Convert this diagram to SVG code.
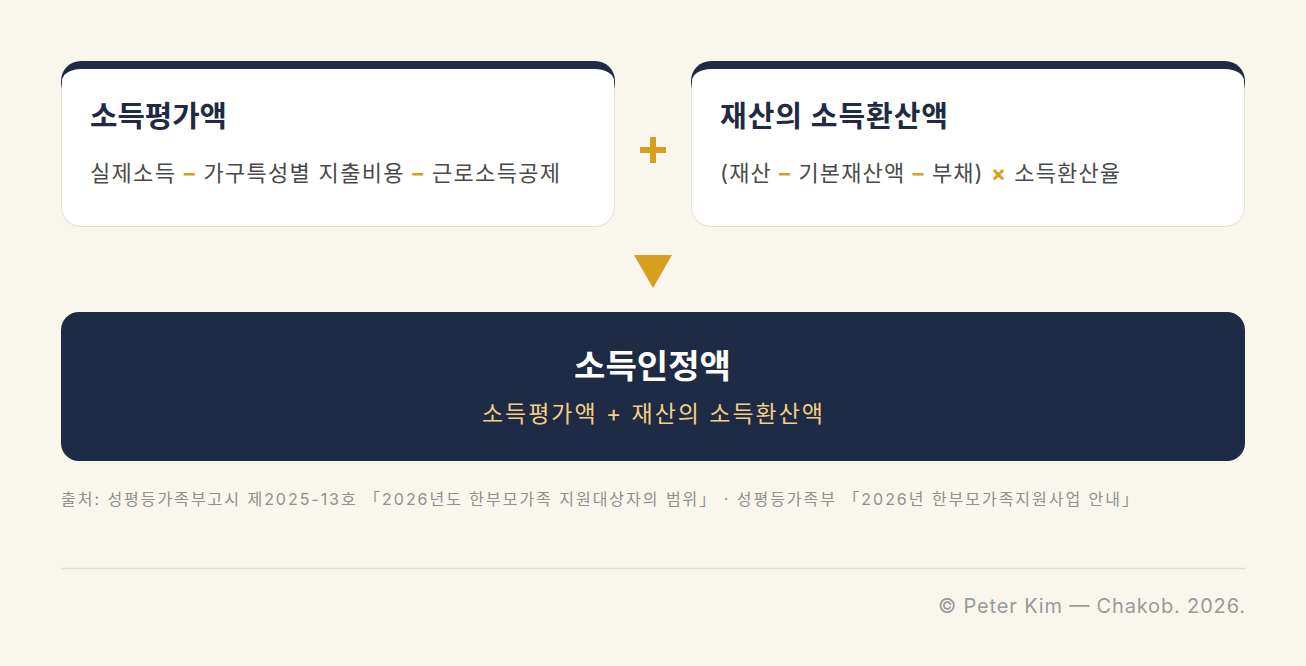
<svg xmlns="http://www.w3.org/2000/svg" width="1306" height="666" viewBox="0 0 1306 666">
<style>
.t{font-family:Inter,"Noto Sans CJK KR",sans-serif}
.ttl{font-size:29px;font-weight:700;fill:#1f2a44}
.frm{font-size:22px;fill:#4a4a4a}
.op{fill:#d89e1e;font-weight:700}
.src{font-size:16px;fill:#8f8f8f}
.cp{font-size:20px;fill:#9a9a9a}
</style>
<defs>
<linearGradient id="bd" x1="0" y1="61" x2="0" y2="227" gradientUnits="userSpaceOnUse">
<stop offset="0" stop-color="#1f2a44"/><stop offset="0.13" stop-color="#1f2a44"/><stop offset="0.17" stop-color="#e6e0d2"/><stop offset="1" stop-color="#e6e0d2"/>
</linearGradient>
</defs>
<rect width="1306" height="666" fill="#f9f6ee"/>
<g id="card-income">
<rect x="61" y="61" width="554" height="166" rx="20" fill="url(#bd)"/>
<path d="M62,81 A19,12 0 0 1 81,69 H595 A19,12 0 0 1 614,81 V207 A19,19 0 0 1 595,226 H81 A19,19 0 0 1 62,207 Z" fill="#fff"/>
<text class="t ttl" x="90" y="127" textLength="137" lengthAdjust="spacingAndGlyphs">소득평가액</text>
<text class="t frm" x="90" y="181" textLength="470">실제소득 <tspan class="op">–</tspan> 가구특성별 지출비용 <tspan class="op">–</tspan> 근로소득공제</text>
</g>
<g id="card-asset">
<rect x="691" y="61" width="554" height="166" rx="20" fill="url(#bd)"/>
<path d="M692,81 A19,12 0 0 1 711,69 H1225 A19,12 0 0 1 1244,81 V207 A19,19 0 0 1 1225,226 H711 A19,19 0 0 1 692,207 Z" fill="#fff"/>
<text class="t ttl" x="720" y="127" textLength="228">재산의 소득환산액</text>
<text class="t frm" x="720" y="181" textLength="400">(재산 <tspan class="op">–</tspan> 기본재산액 <tspan class="op">–</tspan> 부채) <tspan class="op">×</tspan> 소득환산율</text>
</g>
<g id="connectors">
<path d="M650,137 h6 v10 h10 v6 h-10 v10 h-6 v-10 h-10 v-6 h10 Z" fill="#d89e1e"/>
<polygon points="634,255 672,255 653,288" fill="#d89e1e"/>
</g>
<g id="result">
<rect x="61" y="312" width="1184" height="149" rx="18" fill="#1f2a44"/>
<text class="t" x="574" y="378" textLength="157" lengthAdjust="spacingAndGlyphs" font-size="33" font-weight="700" fill="#fff">소득인정액</text>
<text class="t" x="482" y="422" textLength="341" font-size="23" fill="#f2cf86">소득평가액 + 재산의 소득환산액</text>
</g>
<text class="t src" x="61" y="505" textLength="1077">출처: 성평등가족부고시 제2025-13호 「2026년도 한부모가족 지원대상자의 범위」 · 성평등가족부 「2026년 한부모가족지원사업 안내」</text>
<line x1="61" y1="568.5" x2="1245" y2="568.5" stroke="#e2ded4" stroke-width="1.5"/>
<text class="t cp" x="938" y="613" textLength="307">© Peter Kim — Chakob. 2026.</text>
</svg>
